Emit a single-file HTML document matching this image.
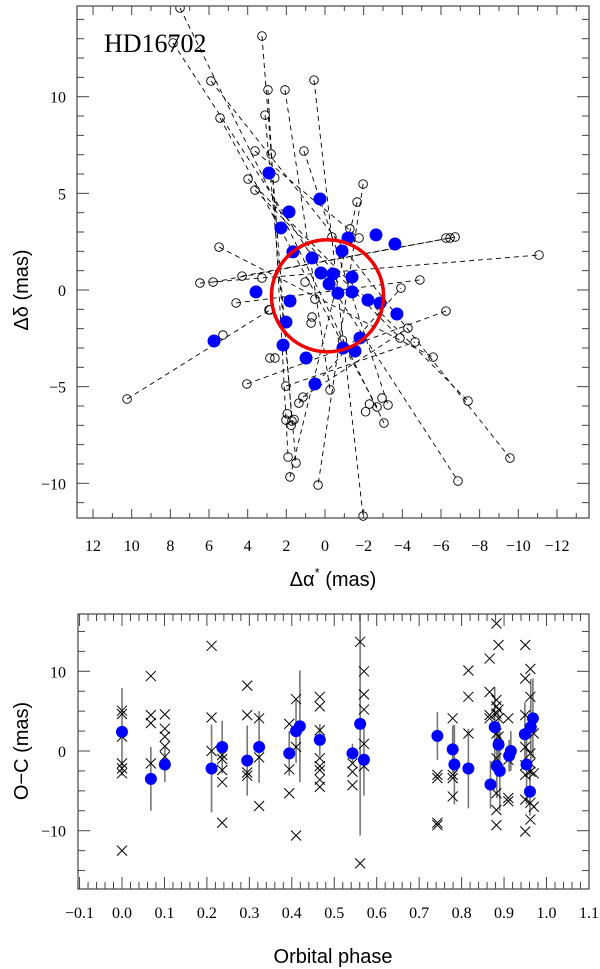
<!DOCTYPE html>
<html><head><meta charset="utf-8"><style>
html,body{margin:0;padding:0;background:#fff;}
svg{display:block;}
</style></head><body>
<svg id="chart" width="600" height="969" viewBox="0 0 600 969" xmlns="http://www.w3.org/2000/svg">
<g id="topPanel"></g>
<g id="botPanel"></g>
</svg>
<script>
// ---- Top panel data (mas) ----
const fitAlpha = [2.90,0.26,1.86,2.28,1.66,0.67,-1.19,-2.64,-3.62,-0.88,3.57,1.81,2.02,2.17,0.98,0.52,5.74,0.21,-0.41,-0.21,-1.40,-0.67,-1.40,-2.22,-2.85,-3.72,-1.81,-0.93,-1.55];
const fitDelta = [6.05,4.71,4.04,3.21,1.97,1.66,2.69,2.85,2.38,2.02,-0.10,-0.57,-1.66,-2.85,-3.52,-4.86,-2.64,0.88,0.83,0.31,0.67,-0.16,-0.10,-0.52,-0.67,-1.24,-2.48,-3.00,-3.16];
const scanA1 = [7.50,7.86,5.90,5.43,3.26,2.95,2.07,0.57,1.09,3.10,-1.66,-1.97,5.48,6.47,5.79,4.29,10.24,4.04,2.02,1.35,1.14,3.98,3.62,3.62,4.60];
const scanD1 = [14.59,12.78,10.81,8.90,13.14,10.35,10.35,10.86,7.19,9.05,4.55,5.48,2.22,0.36,0.41,0.72,-5.64,-4.86,-4.97,-5.85,-5.54,5.74,5.17,7.19,-0.67];
const scanA2 = [-3.05,-6.88,-9.57,-2.69,1.71,1.91,-0.26,-1.97,-3.26,1.50,1.81,0.36,-5.59,-11.07,-6.73,-6.47,2.85,-6.26,-4.66,-3.93,-4.29,-7.40,-3.88,-1.76,-4.91];
const scanD2 = [-6.88,-9.88,-8.69,-6.05,-6.78,-8.64,-5.17,-11.69,-5.95,-8.95,-9.67,-10.09,-3.47,1.81,2.74,2.69,-1.03,-1.09,-2.69,0.10,-1.97,-5.74,-2.48,2.69,0.52];
const obsAlpha = [3.26,2.90,5.28,2.85,2.59,2.02,0.52,0.67,0.72,1.03,-1.29,-0.36,-2.95,2.79,-6.26,-2.30,-2.10,1.6,2.6,-0.9,1.95,1.75];
const obsDelta = [0.62,-1.03,-2.33,-3.52,-3.52,-6.73,-0.47,-1.40,-1.71,0.41,3.16,2.74,-5.59,7.04,2.69,-5.90,-6.30,-6.70,5.80,-2.60,-6.40,-7.00];
const orbitCenterA = -0.13, orbitCenterD = -0.3, orbitRadius = 2.9;
const xTickVals = [12,10,8,6,4,2,0,-2,-4,-6,-8,-10,-12];
const yTickVals = [10,5,0,-5,-10];

// ---- Bottom panel data ----
const dotPhase = [0.0,0.068,0.101,0.211,0.236,0.295,0.323,0.394,0.41,0.419,0.466,0.543,0.561,0.570,0.743,0.779,0.783,0.816,0.868,0.878,0.883,0.887,0.890,0.912,0.916,0.949,0.953,0.961,0.963,0.968];
const dotOC = [2.4,-3.5,-1.7,-2.2,0.5,-1.2,0.5,-0.3,2.5,3.1,1.4,-0.3,3.4,-1.1,1.9,0.2,-1.7,-2.2,-4.2,3.0,-1.9,0.8,-2.5,-0.6,0.0,2.1,-1.7,-5.1,3.0,4.1];
const dotErr = [5.5,4,2.2,5.5,3.3,4.4,4.5,2.8,4,7,2,1.2,14,4.5,3,3,5,5,3,5,4,4,5,2,2.5,4,5,3,6,5];
const crossPhase = [0,0,0,0,0,0,0, 0.068,0.068,0.068,0.068, 0.101,0.101,0.101,0.101,0.101, 0.211,0.211,0.211, 0.236,0.236,0.236,0.236,0.236, 0.295,0.295,0.295,0.295, 0.323,0.323,0.323, 0.394,0.394,0.394, 0.41,0.41,0.41,
 0.466,0.466,0.466,0.466,0.466,0.466,0.466,0.466, 0.543,0.543,0.543, 0.561,0.561, 0.570,0.570,0.570,0.570,0.570, 0.743,0.743,0.743,0.743, 0.779,0.779,0.779,0.779, 0.816,0.816,0.816,
 0.866,0.866,0.866,0.866, 0.882,0.882,0.882,0.882,0.882,0.882,0.882,0.882,0.882, 0.887,0.887,0.887,0.887, 0.910,0.910,0.910,0.910,
 0.950,0.950,0.950,0.950,0.950,0.950,0.950,0.950, 0.962,0.962,0.962,0.962,0.962,0.962,0.962, 0.970,0.970,0.970];
const crossOC = [5.06,4.64,1.8,-1.55,-2.18,-2.8,-12.5, 9.4,4.5,3.5,-1.55, 4.6,2.8,1.8,0.6,-0.7, 13.2,4.2,0.0, -0.5,-1.0,-2.4,-3.9,-9.0, 8.2,4.5,-2.7,-3.1, 4.1,-0.8,-6.9, 3.4,-2.3,-5.3, 6.5,0.5,-10.6,
 6.8,5.6,2.6,-0.9,-1.9,-2.4,-3.6,-4.5, -1.55,-2.6,-4.3, 13.7,-14.1, 10.0,7.1,5.2,0.9,-1.9, -3.0,-3.4,-9.0,-9.3, 4.1,-3.0,-3.4,-5.7, 10.1,6.8,2.2,
 11.6,7.4,4.5,4.1, 16.0,6.4,5.6,4.7,2.2,-0.9,-5.3,-7.4,-9.3, 13.3,5.2,4.1,1.8, 4.1,-1.1,-5.9,-6.3,
 13.3,9.1,4.5,0.5,-1.8,-3.0,-6.1,-10.1, 10.3,6.8,-0.3,-1.55,-2.6,-6.5,-8.6, 2.2,-2.8,-7.0];
const phaseTicks = [-0.1,0.0,0.1,0.2,0.3,0.4,0.5,0.6,0.7,0.8,0.9,1.0,1.1];
const ocTicks = [10,0,-10];

const NS="http://www.w3.org/2000/svg";
const SERIF='"Liberation Serif", serif', SANS='"Liberation Sans", sans-serif';
function mk(parent, tag, attrs){const el=document.createElementNS(NS,tag);for(const k in attrs)el.setAttribute(k,attrs[k]);parent.appendChild(el);return el;}
const topG=document.getElementById('topPanel'), botG=document.getElementById('botPanel');

const TL=77,TR=589,TT=6,TB=518;
const xA=a=>325-a*19.33, yD=d=>290-d*19.33;
let e;
for(let i=0;i<scanA1.length;i++){
  e=mk(topG,'line',{x1:xA(scanA1[i]),y1:yD(scanD1[i]),x2:xA(scanA2[i]),y2:yD(scanD2[i]),stroke:'#000','stroke-width':0.9,'stroke-dasharray':'5,4'});
  
  
}
function openC(a,d){
  e=mk(topG,'circle',{cx:xA(a),cy:yD(d),r:4.3,fill:'none',stroke:'#000','stroke-width':0.9});
  
  
}
for(let i=0;i<scanA1.length;i++){openC(scanA1[i],scanD1[i]);openC(scanA2[i],scanD2[i]);}
for(let i=0;i<obsAlpha.length;i++)openC(obsAlpha[i],obsDelta[i]);
for(let i=0;i<fitAlpha.length;i++){
  e=mk(topG,'circle',{cx:xA(fitAlpha[i]),cy:yD(fitDelta[i]),r:6.5,fill:'#0000ff'});
  
  
}
e=mk(topG,'circle',{cx:xA(orbitCenterA),cy:yD(orbitCenterD),r:orbitRadius*19.33,fill:'none',stroke:'#ee0000','stroke-width':3.5});


mk(topG,'rect',{x:0,y:0,width:600,height:TT,fill:'#fff'});
e=mk(topG,'rect',{x:TL,y:TT,width:TR-TL,height:TB-TT,fill:'none',stroke:'#444','stroke-width':1.2});


for(let a=-13;a<=12;a++){const x=xA(a);if(x<TL||x>TR)continue;const L=(a%2===0)?9:5;
  mk(topG,'line',{x1:x,y1:TB,x2:x,y2:TB-L,stroke:'#444'});mk(topG,'line',{x1:x,y1:TT,x2:x,y2:TT+L,stroke:'#444'});}
for(let d=-11;d<=14;d++){const y=yD(d);const L=(d%5===0)?12:7;
  mk(topG,'line',{x1:TL,y1:y,x2:TL+L,y2:y,stroke:'#444'});mk(topG,'line',{x1:TR,y1:y,x2:TR-L,y2:y,stroke:'#444'});}
xTickVals.forEach(v=>{e=mk(topG,'text',{x:xA(v),y:551,'text-anchor':'middle','font-size':16,'font-family':SERIF});e.textContent=(v<0?'\u2212'+(-v):''+v);
  
  });
yTickVals.forEach(v=>{e=mk(topG,'text',{x:66,y:yD(v)+6,'text-anchor':'end','font-size':16,'font-family':SERIF});e.textContent=(v<0?'\u2212'+(-v):''+v);
  
  });
e=mk(topG,'text',{x:104,y:52,'font-size':26,'font-family':SERIF});e.textContent='HD16702';


e=mk(topG,'text',{x:333,y:586,'text-anchor':'middle','font-size':20,'font-family':SANS});
const t1=mk(e,'tspan',{});t1.textContent='\u0394\u03b1';
const t2=mk(e,'tspan',{dy:-9,'font-size':13});t2.textContent='*';
const t3=mk(e,'tspan',{dy:9});t3.textContent=' (mas)';


e=mk(topG,'text',{x:0,y:0,'text-anchor':'middle','font-size':20,'font-family':SANS,transform:'translate(28,290) rotate(-90)'});e.textContent='\u0394\u03b4 (mas)';



// Bottom panel
const BL=78,BR=589,BT=614,BB=889;
const xP=p=>122+p*424.5, yV=v=>751-v*7.97;
for(let i=0;i<dotPhase.length;i++){
  e=mk(botG,'line',{x1:xP(dotPhase[i]),x2:xP(dotPhase[i]),y1:Math.max(BT,yV(dotOC[i]+dotErr[i])),y2:Math.min(BB,yV(dotOC[i]-dotErr[i])),stroke:'#777','stroke-width':1.6});
  
  
}
for(let i=0;i<crossPhase.length;i++){
  const x=xP(crossPhase[i]),y=yV(crossOC[i]);
  e=mk(botG,'path',{d:`M${x-5},${y-5}L${x+5},${y+5}M${x-5},${y+5}L${x+5},${y-5}`,stroke:'#000','stroke-width':1,fill:'none'});
  
  
}
for(let i=0;i<dotPhase.length;i++){
  e=mk(botG,'circle',{cx:xP(dotPhase[i]),cy:yV(dotOC[i]),r:6,fill:'#0000ff'});
  
  
}
e=mk(botG,'rect',{x:BL,y:BT,width:BR-BL,height:BB-BT,fill:'none',stroke:'#444','stroke-width':1.2});


for(let k=-5;k<=55;k++){const p=k*0.02;const x=xP(p);if(x<BL-0.5||x>BR+0.5)continue;const L=(k%5===0)?12:7;
  mk(botG,'line',{x1:x,y1:BB,x2:x,y2:BB-L,stroke:'#444'});mk(botG,'line',{x1:x,y1:BT,x2:x,y2:BT+L,stroke:'#444'});}
for(let k=-6;k<=6;k++){const v=k*2.5;const y=yV(v);const L=(k%4===0)?12:7;
  mk(botG,'line',{x1:BL,y1:y,x2:BL+L,y2:y,stroke:'#444'});mk(botG,'line',{x1:BR,y1:y,x2:BR-L,y2:y,stroke:'#444'});}
phaseTicks.forEach(v=>{e=mk(botG,'text',{x:xP(v),y:918,'text-anchor':'middle','font-size':16,'font-family':SERIF});e.textContent=(v<0?'\u2212'+(-v).toFixed(1):v.toFixed(1));
  
  });
ocTicks.forEach(v=>{e=mk(botG,'text',{x:66,y:yV(v)+6,'text-anchor':'end','font-size':16,'font-family':SERIF});e.textContent=(v<0?'\u2212'+(-v):''+v);
  
  });
e=mk(botG,'text',{x:333,y:963,'text-anchor':'middle','font-size':20,'font-family':SANS});e.textContent='Orbital phase';


e=mk(botG,'text',{x:0,y:0,'text-anchor':'middle','font-size':20,'font-family':SANS,transform:'translate(28,751) rotate(-90)'});e.textContent='O\u2212C (mas)';


</script>
</body></html>
